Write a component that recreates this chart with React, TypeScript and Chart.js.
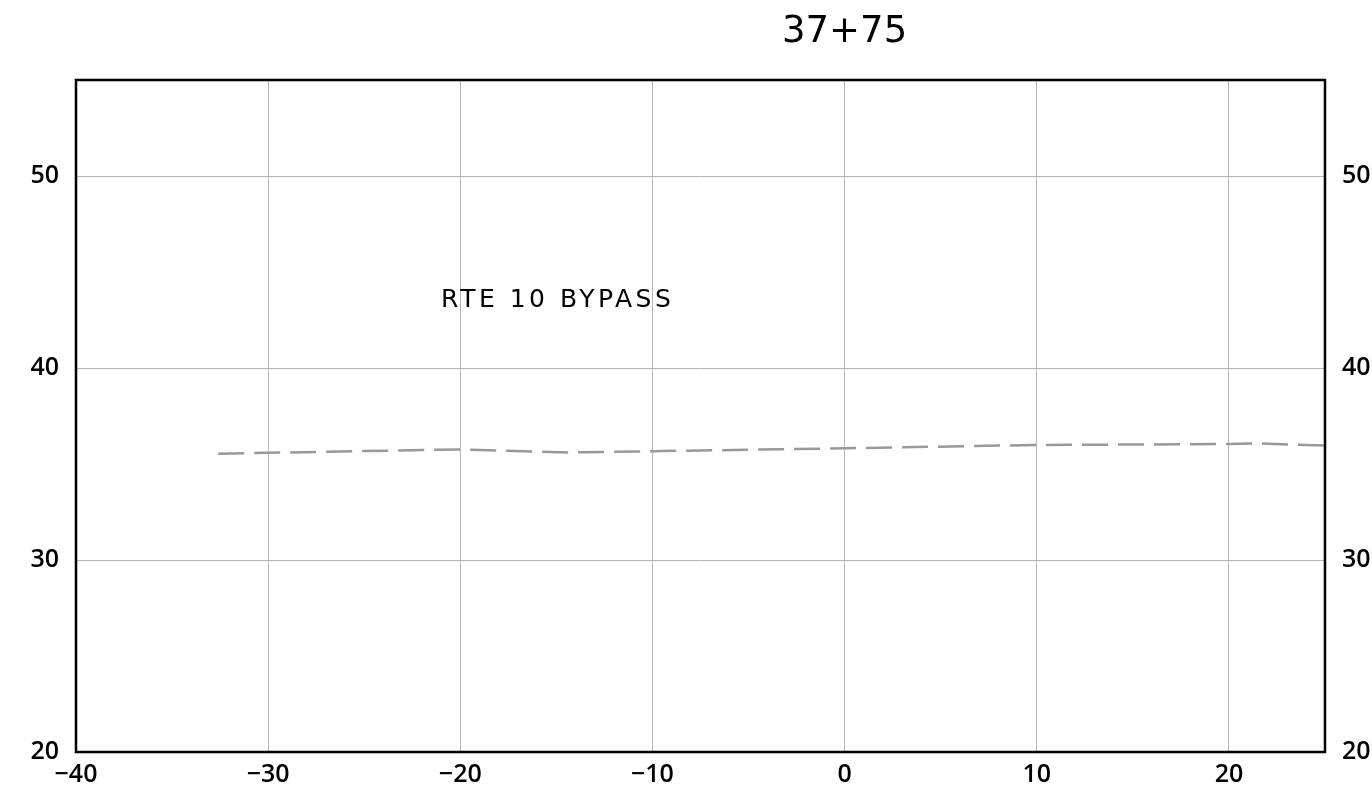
import React, { useEffect, useRef } from "react";
import { Chart, registerables } from "chart.js";

Chart.register(...registerables);

const titleText = "37+75";
const annotationText = "RTE 10 BYPASS";
const annotationX = -21;
const annotationY = 43.5;

const xTicks = [-40, -30, -20, -10, 0, 10, 20];
const yTicks = [20, 30, 40, 50];

const groundX = [-32.6, -20, -14.3, 0, 10, 20, 21.5, 25];
const groundY = [35.54, 35.76, 35.6, 35.82, 35.99, 36.04, 36.07, 35.96];

const FONT = "'DejaVu Sans', sans-serif";
const TICK_FONT = { family: "'Open Sans', sans-serif", size: 25, weight: "600" as any };

const fmt = (v: number) => (v < 0 ? "\u2212" + Math.abs(v) : String(v));

export default function App() {
  const ref = useRef<HTMLCanvasElement | null>(null);

  useEffect(() => {
    if (!ref.current) return;
    const overlay = {
      id: "overlay",
      afterDraw(chart: any) {
        const { ctx, chartArea, scales } = chart;
        ctx.save();
        ctx.strokeStyle = "#000";
        ctx.lineWidth = 2.5;
        ctx.strokeRect(chartArea.left, chartArea.top, chartArea.right - chartArea.left, chartArea.bottom - chartArea.top);
        ctx.fillStyle = "#000";
        ctx.font = `37px ${FONT}`;
        ctx.textAlign = "center";
        ctx.textBaseline = "middle";
        ctx.fillText(titleText, scales.x.getPixelForValue(0), 32);
        ctx.font = `25px ${FONT}`;
        ctx.textAlign = "left";
        (ctx as any).letterSpacing = "3.5px";
        ctx.fillText(annotationText, scales.x.getPixelForValue(annotationX), scales.y.getPixelForValue(annotationY));
        ctx.restore();
      },
    };
    const chart = new Chart(ref.current, {
      type: "scatter",
      data: {
        datasets: [
          {
            data: groundX.map((x, i) => ({ x, y: groundY[i] })),
            showLine: true,
            pointRadius: 0,
            borderColor: "#999999",
            borderWidth: 2.5,
            borderDash: [26, 10],
            fill: false,
          },
        ],
      },
      options: {
        animation: false,
        responsive: false,
        maintainAspectRatio: false,
        layout: { padding: { top: 80, left: 0, right: 0, bottom: 0 } },
        plugins: { legend: { display: false }, tooltip: { enabled: false }, title: { display: false } },
        scales: {
          x: {
            type: "linear",
            min: -40,
            max: 25,
            afterBuildTicks: (axis: any) => { axis.ticks = xTicks.map((v) => ({ value: v })); },
            afterFit: (axis: any) => { axis.height = 51; },
            grid: { color: (c: any) => (c.tick?.value === -40 ? "rgba(0,0,0,0)" : "#b4b4b4"), lineWidth: 1, drawTicks: false },
            border: { display: false },
            ticks: {
              color: "#000",
              font: TICK_FONT,
              padding: 8,
              maxRotation: 0,
              autoSkip: false,
              callback: (v: any) => fmt(Number(v)),
            },
          },
          y: {
            type: "linear",
            position: "left",
            min: 20,
            max: 55,
            afterBuildTicks: (axis: any) => { axis.ticks = yTicks.map((v) => ({ value: v })); },
            afterFit: (axis: any) => { axis.width = 76; },
            grid: { color: (c: any) => (c.tick?.value === 20 ? "rgba(0,0,0,0)" : "#b4b4b4"), lineWidth: 1, drawTicks: false },
            border: { display: false },
            ticks: {
              color: "#000",
              font: TICK_FONT,
              padding: 17,
              autoSkip: false,
              callback: (v: any) => fmt(Number(v)),
            },
          },
          y2: {
            type: "linear",
            position: "right",
            min: 20,
            max: 55,
            afterBuildTicks: (axis: any) => { axis.ticks = yTicks.map((v) => ({ value: v })); },
            afterFit: (axis: any) => { axis.width = 47; },
            grid: { display: false, drawTicks: false },
            border: { display: false },
            ticks: {
              color: "#000",
              font: TICK_FONT,
              padding: 17,
              autoSkip: false,
              callback: (v: any) => fmt(Number(v)),
            },
          },
        },
      },
      plugins: [overlay],
    } as any);
    return () => chart.destroy();
  }, []);

  return (
    <div style={{ position: "absolute", left: 0, top: 0, width: 1372, height: 803, background: "#fff" }}>
      <canvas ref={ref} width={1372} height={803} style={{ width: 1372, height: 803, display: "block" }} />
    </div>
  );
}
